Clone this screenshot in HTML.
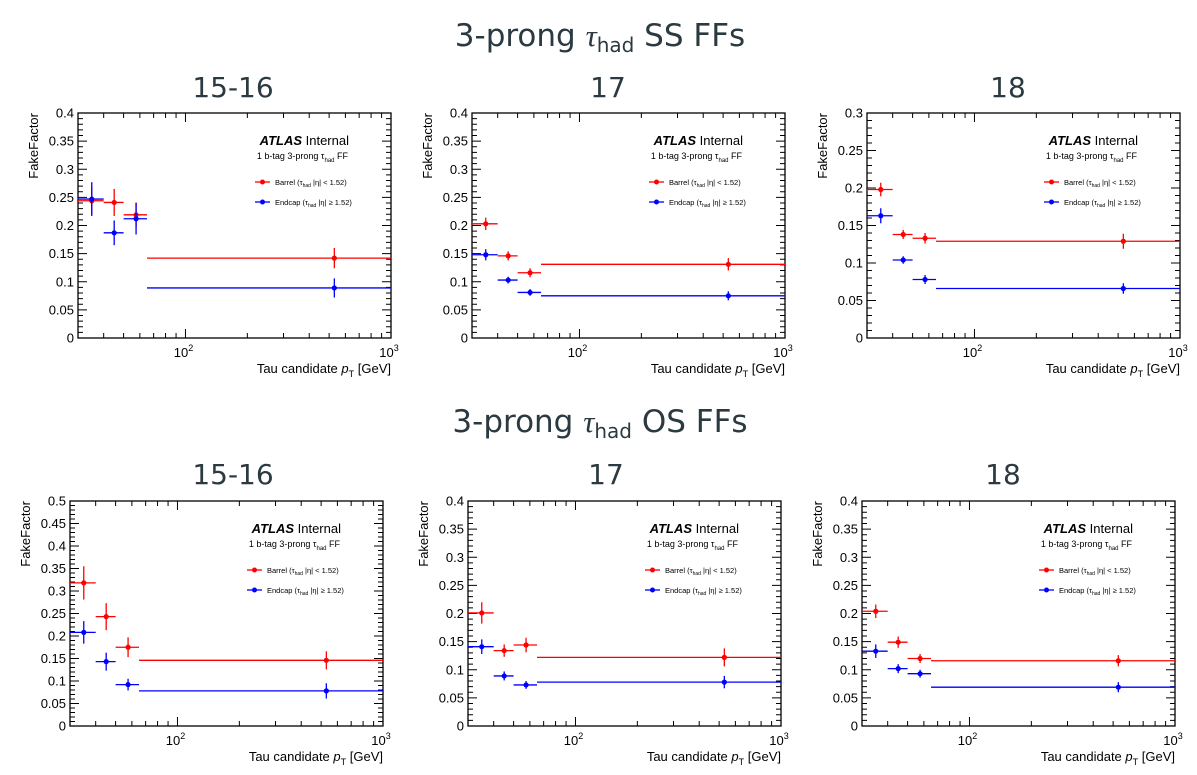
<!DOCTYPE html>
<html><head><meta charset="utf-8"><style>
html,body{margin:0;padding:0;background:#fff;width:1197px;height:775px;overflow:hidden}
svg text{font-family:"Liberation Sans",sans-serif}
.t{font-family:"DejaVu Sans","Liberation Sans",sans-serif;fill:#2b3a40}
</style></head><body>
<svg id="c" width="1197" height="775" xmlns="http://www.w3.org/2000/svg">
<text class="t" x="600" y="46" font-size="31" text-anchor="middle">3-prong <tspan font-style="italic" font-family="Liberation Serif">τ</tspan><tspan font-size="20" dy="6">had</tspan><tspan dy="-6"> SS FFs</tspan></text>
<text class="t" x="600" y="432" font-size="31" text-anchor="middle">3-prong <tspan font-style="italic" font-family="Liberation Serif">τ</tspan><tspan font-size="20" dy="6">had</tspan><tspan dy="-6"> OS FFs</tspan></text>
</svg>
<script>
const binEdges=[30,40,50,65,1000];
const binCenters=[35,45,57.5,530];
const panelTitles=["15-16","17","18","15-16","17","18"];
const yMaxes=[0.4,0.4,0.3,0.5,0.4,0.4];
const redVals=[[0.244,0.241,0.219,0.142],[0.203,0.146,0.116,0.131],[0.198,0.138,0.133,0.129],[0.318,0.243,0.175,0.146],[0.201,0.134,0.144,0.122],[0.204,0.149,0.120,0.116]];
const redErrs=[[0.025,0.024,0.022,0.018],[0.011,0.008,0.008,0.011],[0.009,0.006,0.007,0.010],[0.037,0.030,0.022,0.020],[0.019,0.011,0.013,0.016],[0.012,0.010,0.008,0.010]];
const blueVals=[[0.247,0.187,0.212,0.089],[0.148,0.103,0.081,0.075],[0.163,0.104,0.078,0.066],[0.208,0.143,0.092,0.078],[0.141,0.089,0.073,0.078],[0.133,0.102,0.093,0.069]];
const blueErrs=[[0.030,0.022,0.028,0.017],[0.010,0.006,0.006,0.008],[0.010,0.005,0.006,0.007],[0.025,0.020,0.013,0.017],[0.013,0.008,0.007,0.011],[0.012,0.008,0.007,0.009]];
const frames=[[78,113],[472,113],[867,113],[70,501],[468,501],[862,501]];
const titleX=[233,608,1008,233,606,1003];
const NS="http://www.w3.org/2000/svg";
const svg=document.getElementById('c');
function el(t,a,p){const e=document.createElementNS(NS,t);for(const k in a)e.setAttribute(k,a[k]);(p||svg).appendChild(e);return e;}
const W=313,H=225;
for(let p=0;p<6;p++){
  const [fx,fy]=frames[p];
  const g=el('g',{});
  
  
  const ty=p<3?97:484;
  const tt=el('text',{x:titleX[p],y:ty,'font-size':28,'text-anchor':'middle',class:'t'},g);
  tt.textContent=panelTitles[p];
  
  
  const lx0=Math.log10(30),lx1=3;
  const X=v=>fx+(Math.log10(v)-lx0)/(lx1-lx0)*W;
  const ym=yMaxes[p];
  const Y=v=>fy+H-v/ym*H;
  // frame
  const fr=el('rect',{x:fx,y:fy,width:W,height:H,fill:'none',stroke:'#000','stroke-width':1.3},g);
  
  
  // y ticks
  const nMaj=Math.round(ym/0.05);
  for(let i=0;i<=nMaj;i++){
    const v=i*0.05,y=Y(v);
    el('line',{x1:fx,x2:fx+9,y1:y,y2:y,stroke:'#000'},g);
    el('line',{x1:fx+W,x2:fx+W-9,y1:y,y2:y,stroke:'#000'},g);
    const t=el('text',{x:fx-4,y:y+4.5,'font-size':13,'text-anchor':'end'},g);
    t.textContent=(Math.round(v*100)/100).toString();
    
    
    if(i<nMaj)for(let j=1;j<5;j++){const yy=Y(v+j*0.01);
      el('line',{x1:fx,x2:fx+5,y1:yy,y2:yy,stroke:'#000'},g);
      el('line',{x1:fx+W,x2:fx+W-5,y1:yy,y2:yy,stroke:'#000'},g);}
  }
  // x ticks
  for(let d of [30,40,50,60,70,80,90,100,200,300,400,500,600,700,800,900,1000]){
    const x=X(d),maj=(d==100||d==1000),L=maj?9:5;
    el('line',{x1:x,x2:x,y1:fy+H,y2:fy+H-L,stroke:'#000'},g);
    el('line',{x1:x,x2:x,y1:fy,y2:fy+L,stroke:'#000'},g);
  }
  for(const [d,e] of [[100,2],[1000,3]]){
    const t=el('text',{x:X(d)-2,y:fy+H+19,'font-size':13,'text-anchor':'middle'},g);
    t.innerHTML='10<tspan font-size="9" dy="-6">'+e+'</tspan>';
    
    
  }
  const xt=el('text',{x:fx+W,y:fy+H+35,'font-size':13,'text-anchor':'end'},g);
  xt.innerHTML='Tau candidate <tspan font-style="italic">p</tspan><tspan font-size="9" dy="4">T</tspan><tspan dy="-4"> [GeV]</tspan>';
  
  
  const yt=el('text',{x:0,y:0,'font-size':13,'text-anchor':'end',transform:`translate(${fx-40},${fy}) rotate(-90)`},g);
  yt.textContent='FakeFactor';
  
  
  // labels
  const ax=fx+W-42;
  const at=el('text',{x:ax,y:fy+32,'font-size':13,'text-anchor':'end'},g);
  at.innerHTML='<tspan font-weight="bold" font-style="italic">ATLAS</tspan> Internal';
  
  
  const sb=el('text',{x:fx+W-43,y:fy+46,'font-size':9,'text-anchor':'end'},g);
  sb.innerHTML='1 b-tag 3-prong τ<tspan font-size="6" dy="3">had</tspan><tspan dy="-3"> FF</tspan>';
  
  
  const legs=[['#f00','Barrel (τ<tspan font-size="5" dy="2">had</tspan><tspan dy="-2"> |η| &lt; 1.52)</tspan>',69],['#00f','Endcap (τ<tspan font-size="5" dy="2">had</tspan><tspan dy="-2"> |η| ≥ 1.52)</tspan>',89]];
  for(const [c,txt,dy] of legs){
    const lg=el('g',{},g);
    
    
    const lx=fx+177;
    el('line',{x1:lx,x2:lx+15,y1:fy+dy,y2:fy+dy,stroke:c,'stroke-width':1.3},lg);
    el('circle',{cx:lx+7.5,cy:fy+dy,r:2.5,fill:c},lg);
    const t=el('text',{x:lx+20,y:fy+dy+3,'font-size':7.5},lg);
    t.innerHTML=txt;
  }
  // data
  for(const [vals,errs,c,nm] of [[redVals[p],redErrs[p],'#f00','barrel'],[blueVals[p],blueErrs[p],'#00f','endcap']]){
    for(let i=0;i<vals.length;i++){
      const pt=el('g',{},g);
      
      
      const y=Y(vals[i]);
      el('line',{x1:X(binEdges[i]),x2:X(binEdges[i+1]),y1:y,y2:y,stroke:c,'stroke-width':1.3},pt);
      el('line',{x1:X(binCenters[i]),x2:X(binCenters[i]),y1:Y(vals[i]+errs[i]),y2:Y(vals[i]-errs[i]),stroke:c,'stroke-width':1.3},pt);
      el('circle',{cx:X(binCenters[i]),cy:y,r:2.6,fill:c},pt);
    }
  }
}
</script>
</body></html>
